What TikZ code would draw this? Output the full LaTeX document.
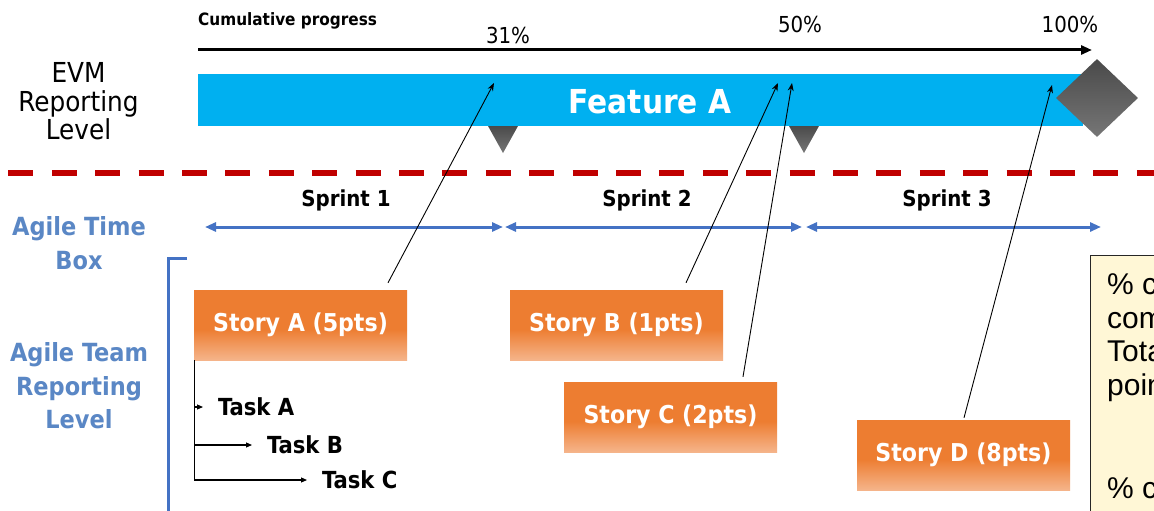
\documentclass[tikz,border=0pt]{standalone}
\usepackage{fontspec}
\setmainfont{DejaVuSansCondensed}[Extension=.ttf, BoldFont=DejaVuSansCondensed-Bold]
\newfontfamily\notefont{Liberation Sans}
\usetikzlibrary{arrows.meta,calc,shapes.geometric}

\definecolor{barblue}{HTML}{00B0F0}
\definecolor{labelblue}{HTML}{5A87C5}
\definecolor{sprintblue}{HTML}{4472C4}
\definecolor{dashred}{HTML}{C00000}
\definecolor{storyorange}{HTML}{ED7D31}
\definecolor{storypeach}{HTML}{F5B48A}
\definecolor{notefill}{HTML}{FFF7D6}
\definecolor{miledark}{HTML}{4A4A4A}
\definecolor{milelight}{HTML}{767676}

% orange story cards: solid at the top, fading to peach near the bottom edge
\pgfdeclareverticalshading{storyshade}{100bp}{color(0bp)=(storypeach); color(25bp)=(storypeach); color(47bp)=(storyorange); color(100bp)=(storyorange)}

\tikzset{
  storybox/.style={shading=storyshade, minimum width=213pt, minimum height=70pt,
    inner sep=0pt, text=white, font=\fontsize{24.6}{29}\selectfont\bfseries},
  sidelabel/.style={align=center, inner sep=0pt},
  percent/.style={anchor=base, inner sep=0pt, font=\fontsize{22}{26}\selectfont},
  sprintlabel/.style={anchor=base, inner sep=0pt, font=\fontsize{22}{26}\selectfont\bfseries},
  sprintarrow/.style={sprintblue, line width=3pt,
    {Triangle[length=11pt,width=9pt]}-{Triangle[length=11pt,width=9pt]}},
  progresslink/.style={black, line width=0.9pt, -{Stealth[length=8pt,width=6pt]}},
  tasklink/.style={black, line width=1.1pt, -{Triangle[length=6pt,width=5pt]}, shorten >=15pt},
  tasklabel/.style={anchor=west, inner sep=0pt, font=\fontsize{23.5}{28}\selectfont\bfseries},
  milestone/.style={top color=miledark, bottom color=milelight, draw=none}
}

\begin{document}
\begin{tikzpicture}[x=1pt, y=-1pt]
\useasboundingbox (0,0) rectangle (1154,511);
\clip (0,0) rectangle (1154,511);
\fill[white] (0,0) rectangle (1154,511);

% ---- EVM reporting level ----
\node[sidelabel, font=\fontsize{27.5}{28.5}\selectfont] (evm) at (78.5,101.5) {EVM\\Reporting\\Level};

\node[anchor=base west, inner sep=0pt, font=\fontsize{17}{20}\selectfont\bfseries] (cumlabel) at (198,26) {Cumulative progress};
\coordinate (cumstart) at (198,50);
\coordinate (cumend) at (1092,50);
\draw[line width=3pt, -{Triangle[length=11pt,width=9pt]}] (cumstart) -- (cumend);

\node[percent] (p31) at (508,44) {31\%};
\node[percent] (p50) at (800,33) {50\%};
\node[percent] (p100) at (1070,33) {100\%};

\node[fill=barblue, minimum width=885pt, minimum height=52pt, inner sep=0pt] (feature) at (640.5,100) {};
\node[anchor=base, inner sep=0pt, text=white, font=\fontsize{33}{38}\selectfont\bfseries] (featurelabel) at (650,113.5) {Feature A};

\node[diamond, milestone, minimum width=82pt, minimum height=78pt, inner sep=0pt] (finish) at (1097,98) {};
\shade[milestone] (488,126) -- (518,126) -- (503,153) -- cycle;
\shade[milestone] (789,126) -- (819,126) -- (804,153) -- cycle;

% boundary between the two reporting levels
\draw[dashred, line width=6pt, dash pattern=on 25pt off 18.4pt] (-35,173) -- (1170,173);

% ---- agile time box ----
\node[sidelabel, text=labelblue, font=\fontsize{25}{34}\selectfont\bfseries] (timebox) at (79,243) {Agile Time\\Box};

\node[sprintlabel] (sp1) at (346,206) {Sprint 1};
\node[sprintlabel] (sp2) at (647,206) {Sprint 2};
\node[sprintlabel] (sp3) at (947,206) {Sprint 3};
\coordinate (t0) at (205,227);
\coordinate (t1a) at (503,227);
\coordinate (t1b) at (505,227);
\coordinate (t2a) at (802,227);
\coordinate (t2b) at (806,227);
\coordinate (t3) at (1101,227);
\draw[sprintarrow] (t0) -- (t1a);
\draw[sprintarrow] (t1b) -- (t2a);
\draw[sprintarrow] (t2b) -- (t3);

% ---- agile team reporting level ----
\node[sidelabel, text=labelblue, font=\fontsize{25}{33.5}\selectfont\bfseries] (teamlevel) at (79,386) {Agile Team\\Reporting\\Level};
\coordinate (brackettip) at (187,258);
\coordinate (bracketcorner) at (168,258);
\coordinate (bracketfoot) at (168,530);
\draw[sprintblue, line width=3pt] (brackettip) -- (bracketcorner) -- (bracketfoot);

\node[storybox] (storyA) at (300.5,325) {Story A (5pts)};
\node[storybox] (storyB) at (616.5,325) {Story B (1pts)};
\node[storybox] (storyC) at (670.5,417) {Story C (2pts)};
\node[storybox] (storyD) at (963.5,455) {Story D (8pts)};

\node[tasklabel] (taskA) at (218,407) {Task A};
\node[tasklabel] (taskB) at (267,445) {Task B};
\node[tasklabel] (taskC) at (322,480) {Task C};
\coordinate (spine) at ($(storyA.south west)+(1,0)$);
\draw[tasklink] (spine) |- (taskA);
\draw[tasklink] (spine) |- (taskB);
\draw[tasklink] (spine) |- (taskC);

% each story points at its share of the cumulative progress
\coordinate (markA) at (494,83);
\coordinate (markB) at (778,83);
\coordinate (markC) at (792,83);
\coordinate (markD) at (1052,85);
\draw[progresslink] ($(storyA.north)+(87.5,-7)$) -- (markA);
\draw[progresslink] ($(storyB.north)+(69.5,-7)$) -- (markB);
\draw[progresslink] ($(storyC.north)+(72.5,-5)$) -- (markC);
\draw[progresslink] ($(storyD.north)+(0.5,-2)$) -- (markD);

% ---- note on percent complete ----
\node[draw=black!85, line width=1.4pt, fill=notefill, anchor=north west,
      minimum width=220pt, minimum height=320pt, inner sep=0pt] (note) at (1090,255) {};
\node[anchor=north west, align=left, inner sep=0pt,
      font=\notefont\fontsize{30}{33.5}\selectfont] (notetext) at (1107,273)
  {\% complete =\\completed points /\\Total\\points\\[69.5pt]\% complete};
\end{tikzpicture}
\end{document}
